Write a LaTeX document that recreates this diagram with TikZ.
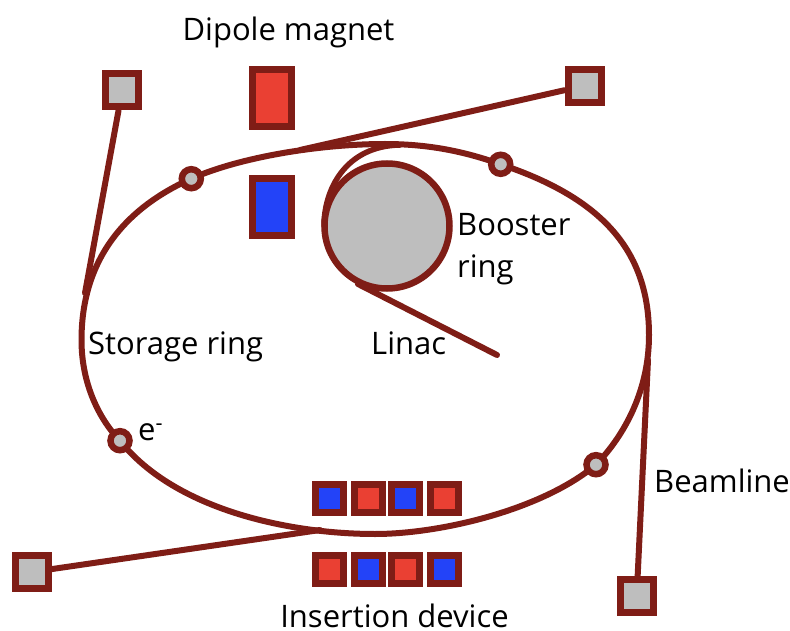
\documentclass[tikz,border=0pt]{standalone}
\usepackage{fontspec}
\setmainfont{Open Sans}
\definecolor{ring}{HTML}{7F1D16}
\definecolor{dred}{HTML}{EA4033}
\definecolor{dblue}{HTML}{2343F8}
\definecolor{gr}{HTML}{BEBEBE}
\tikzset{
 beam/.style={draw=ring,line width=6pt,line cap=round},
 sq/.style={draw=ring,line width=7pt,fill=gr,minimum size=33pt,inner sep=0pt,shape=rectangle},
 el/.style={draw=ring,line width=6.5pt,fill=gr,circle,minimum size=19pt,inner sep=0pt},
 dip/.style={draw=ring,line width=7pt,minimum width=39pt,minimum height=57pt,inner sep=0pt,shape=rectangle},
 idr/.style={draw=ring,line width=7pt,fill=dred,minimum size=28pt,inner sep=0pt,shape=rectangle},
 idb/.style={draw=ring,line width=7pt,fill=dblue,minimum size=28pt,inner sep=0pt,shape=rectangle},
 lab/.style={font=\fontsize{31pt}{42pt}\selectfont,text=black,inner sep=0pt,align=left}
}
\begin{document}
\begin{tikzpicture}[x=1pt,y=-1pt]
\useasboundingbox (0,0) rectangle (790,631);
% storage ring
\draw[draw=ring,line width=6pt] (81.5,340)
 .. controls (81.5,255) and (130,206) .. (191.3,178.7)
 .. controls (240,157) and (320,144) .. (385,144)
 .. controls (430,144) and (466,152) .. (500.7,164.3)
 .. controls (595,196) and (649,245) .. (649,335)
 .. controls (649,390) and (625,434.7) .. (596,464.7)
 .. controls (542,510) and (440,534) .. (375,534)
 .. controls (290,534) and (175,510) .. (120,440.7)
 .. controls (100,420) and (81.5,385) .. (81.5,340) -- cycle;
% linac
\coordinate (lin) at (497,355);
\coordinate (lint) at (358,284);
\draw[beam] (lin) -- (lint);
% booster
\node[draw=ring,line width=6.5pt,fill=gr,circle,minimum size=125pt,inner sep=0pt] (boost) at (387,226) {};
\draw[beam,line width=5.5pt] (324,226) .. controls (324,190) and (345,146) .. (400,145);
% beamlines
\node[sq] (bl1) at (122.2,90.5) {};
\node[sq] (bl2) at (584.5,85.7) {};
\node[sq] (bl3) at (31.7,572) {};
\node[sq] (bl4) at (636.7,595.7) {};
\coordinate (t1) at (85,293);
\coordinate (t2) at (300,150);
\coordinate (t3) at (320,530);
\coordinate (t4) at (648,360);
\draw[beam] (bl1) -- (t1);
\draw[beam] (bl2) -- (t2);
\draw[beam] (bl3) -- (t3);
\draw[beam] (bl4) -- (t4);
% electrons
\node[el] (e1) at (191.3,178.7) {};
\node[el] (e2) at (500.7,164.3) {};
\node[el] (e3) at (120,440.7) {};
\node[el] (e4) at (596,464.7) {};
% dipole
\node[dip,fill=dred] (d1) at (272,98) {};
\node[dip,fill=dblue] (d2) at (272,207) {};
% insertion devices
\node[idb] (a1) at (329.5,498) {};
\node[idr] (a2) at (368,498) {};
\node[idb] (a3) at (405.5,498) {};
\node[idr] (a4) at (444,498) {};
\node[idr] (b1) at (329.5,569.5) {};
\node[idb] (b2) at (368,569.5) {};
\node[idr] (b3) at (405.5,569.5) {};
\node[idb] (b4) at (444,569.5) {};
% labels
\node[lab,anchor=base] (l1) at (288.5,41) {Dipole magnet};
\node[lab,anchor=base west] (l2) at (457,277) {Booster\\ring};
\node[lab,anchor=base west] (l3) at (88,354) {Storage ring};
\node[lab,anchor=base west] (l4) at (371,354) {Linac};
\node[lab,anchor=base west] (l5) at (138,440) {e\textsuperscript{-}};
\node[lab,anchor=base west] (l6) at (654,492) {Beamline};
\node[lab,anchor=base] (l7) at (394.5,627) {Insertion device};
\end{tikzpicture}
\end{document}
